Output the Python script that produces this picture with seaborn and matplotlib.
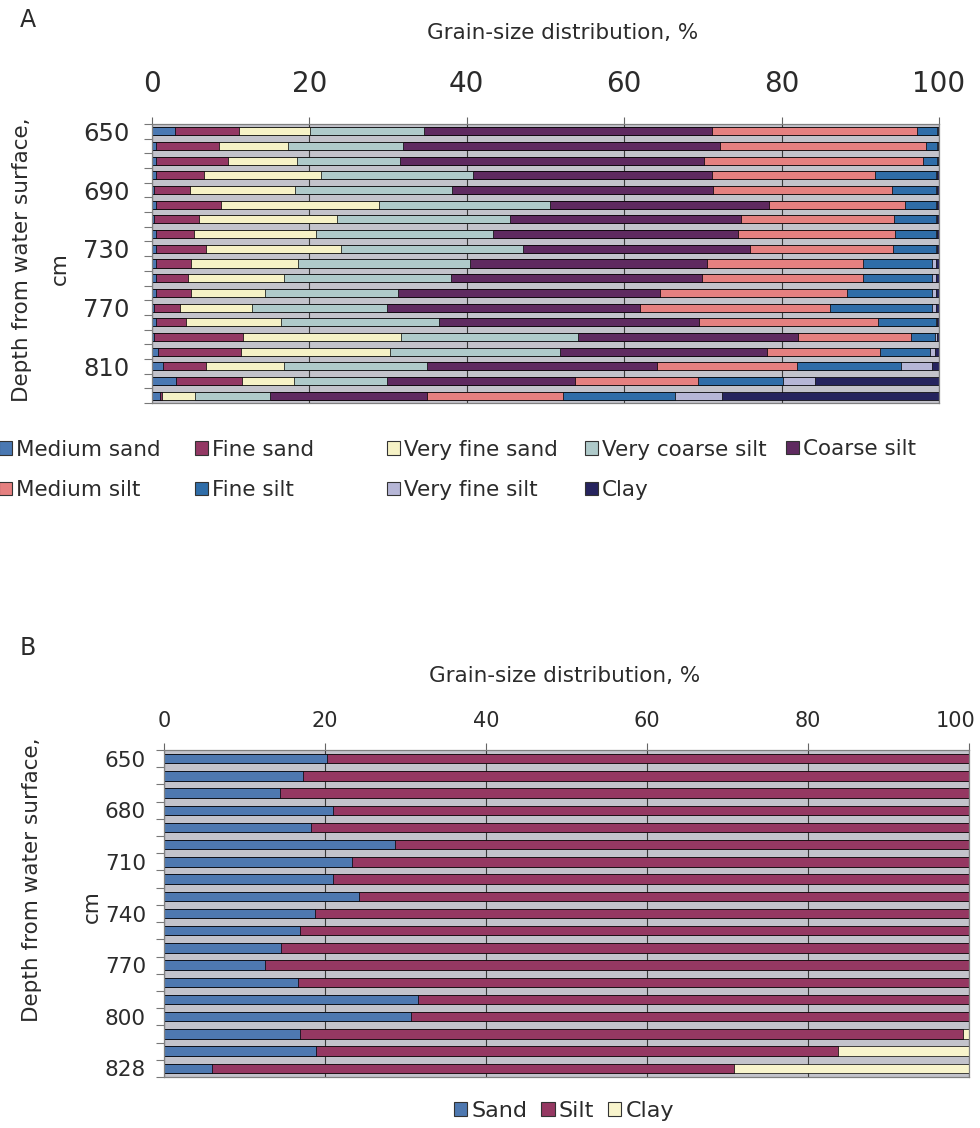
import numpy as np
import pandas as pd
import matplotlib
matplotlib.use('Agg')
import matplotlib.pyplot as plt
import matplotlib.transforms as mtransforms
from matplotlib.patches import Patch
import seaborn as sns

# ---------------- data ----------------
depths = ["650", "660", "670", "680", "690", "700", "710", "720", "730", "740",
          "750", "760", "770", "780", "790", "800", "810", "820", "828"]

# Panel A: grain-size fractions (%)
medium_sand = [2.9, 0.5, 0.5, 0.5, 0.3, 0.5, 0.3, 0.5, 0.5, 0.5, 0.5, 0.5, 0.3, 0.5, 0.3, 0.8, 1.4, 3.1, 1.0]
fine_sand = [8.2, 8.0, 9.2, 6.1, 4.5, 8.3, 5.7, 4.8, 6.4, 4.4, 4.1, 4.4, 3.2, 3.8, 11.2, 10.5, 5.5, 8.3, 0.3]
very_fine_sand = [9.0, 8.8, 8.7, 14.9, 13.4, 20.0, 17.5, 15.6, 17.1, 13.6, 12.2, 9.4, 9.2, 12.1, 20.1, 19.0, 9.9, 6.7, 4.2]
very_coarse_silt = [14.4, 14.6, 13.1, 19.3, 19.9, 21.8, 22.0, 22.4, 23.1, 21.9, 21.2, 17.0, 17.1, 20.1, 22.5, 21.5, 18.2, 11.7, 9.5]
coarse_silt = [36.6, 40.3, 38.6, 30.3, 33.2, 27.8, 29.4, 31.2, 28.9, 30.1, 31.9, 33.2, 32.2, 33.0, 28.0, 26.3, 29.2, 24.0, 20.0]
medium_silt = [26.1, 26.2, 27.9, 20.8, 22.7, 17.3, 19.4, 19.9, 18.2, 19.9, 20.5, 23.8, 24.2, 22.7, 14.4, 14.4, 17.8, 15.6, 17.2]
fine_silt = [2.6, 1.4, 1.8, 7.7, 5.6, 3.9, 5.3, 5.2, 5.4, 8.7, 8.7, 10.8, 12.9, 7.4, 3.0, 6.4, 13.2, 10.8, 14.3]
very_fine_silt = [0.1, 0.1, 0.1, 0.2, 0.2, 0.2, 0.2, 0.2, 0.2, 0.5, 0.5, 0.5, 0.5, 0.2, 0.3, 0.6, 3.9, 4.0, 5.9]
clay_a = [0.1, 0.1, 0.1, 0.2, 0.2, 0.2, 0.2, 0.2, 0.2, 0.4, 0.4, 0.4, 0.4, 0.2, 0.2, 0.5, 0.9, 15.8, 27.6]

names_a = ["Medium sand", "Fine sand", "Very fine sand", "Very coarse silt", "Coarse silt",
           "Medium silt", "Fine silt", "Very fine silt", "Clay"]
colors_a = ["#4A78B2", "#933864", "#F6F2C6", "#AFCACA", "#5F2A60",
            "#E58080", "#2F6DA8", "#B6B6D6", "#26245E"]

# Panel B: sand / silt / clay (%)
sand_b = [20.2, 17.3, 14.4, 21.0, 18.3, 28.7, 23.4, 21.0, 24.2, 18.7, 16.9, 14.5, 12.6, 16.7, 31.6, 30.7, 16.9, 18.9, 6.0]
silt_b = [79.8, 82.7, 85.6, 79.0, 81.7, 71.3, 76.6, 79.0, 75.8, 81.3, 83.1, 85.5, 87.4, 83.3, 68.4, 69.3, 82.3, 64.8, 64.8]
clay_b = [0.0, 0.0, 0.0, 0.0, 0.0, 0.0, 0.0, 0.0, 0.0, 0.0, 0.0, 0.0, 0.0, 0.0, 0.0, 0.0, 0.8, 16.3, 29.2]

names_b = ["Sand", "Silt", "Clay"]
colors_b = ["#4E78B0", "#953862", "#F8F4CC"]

xticks = [0, 20, 40, 60, 80, 100]
ylabels_a = ["650", "690", "730", "770", "810"]
ylabels_b = ["650", "680", "710", "740", "770", "800", "828"]

# ---------------- style ----------------
sns.set_theme(style="white")
plt.rcParams['font.family'] = ['DejaVu Sans']
TXT = "#2b2b2b"

W, H = 980, 1128
fig = plt.figure(figsize=(W / 100, H / 100), dpi=100)


def px_axes(l, t, r, b):
    return fig.add_axes([l / W, 1 - b / H, (r - l) / W, (b - t) / H])


def stacked(ax, comps, colors, width):
    cum = np.cumsum(np.array(comps), axis=0)
    for k in range(len(comps) - 1, -1, -1):
        df = pd.DataFrame({"depth": depths, "value": cum[k]})
        sns.barplot(data=df, x="value", y="depth", orient="h", order=depths,
                    color=colors[k], width=width, saturation=1,
                    edgecolor="black", linewidth=0.5, errorbar=None, ax=ax)


def style_axes(ax, shown, xsize, ysize, xpad, ypad):
    ax.set_facecolor("#C3C3CB")
    ax.set_xlim(0, 100)
    ax.set_ylim(len(depths) - 0.5, -0.5)
    ax.set_xlabel("")
    ax.set_ylabel("")
    ax.xaxis.tick_top()
    ax.set_xticks(xticks)
    ax.set_xticklabels([str(v) for v in xticks])
    ax.tick_params(axis="x", which="major", top=True, bottom=False, labeltop=True,
                   labelbottom=False, length=5, width=0.8, color="#666666",
                   pad=xpad, labelsize=xsize, labelcolor=TXT)
    ax.set_yticks(range(len(depths)))
    ax.set_yticklabels([d if d in shown else "" for d in depths])
    ax.tick_params(axis="y", which="major", left=False, length=0, pad=ypad,
                   labelsize=ysize, labelcolor=TXT)
    ax.set_yticks(np.arange(-0.5, len(depths), 1), minor=True)
    ax.tick_params(axis="y", which="minor", left=True, length=6, width=0.8,
                   color="#777777")
    ax.grid(False)
    ax.xaxis.grid(True, color="#3a3a3a", linewidth=0.8)
    ax.set_axisbelow(True)
    for s in ax.spines.values():
        s.set_visible(True)
        s.set_color("#808080")
        s.set_linewidth(0.9)


# ---------------- panel A ----------------
axA = px_axes(152, 124, 939, 403)
stacked(axA, [medium_sand, fine_sand, very_fine_sand, very_coarse_silt, coarse_silt,
              medium_silt, fine_silt, very_fine_silt, clay_a], colors_a, 0.55)
style_axes(axA, ylabels_a, 20, 17.5, 13.5, 16)

fig.text(28 / W, 1 - 20 / H, "A", fontsize=17, color=TXT, ha="center", va="center")
fig.text(563 / W, 1 - 33 / H, "Grain-size distribution, %", fontsize=15.5, color=TXT,
         ha="center", va="center")
fig.text(22 / W, 1 - 260 / H, "Depth from water surface,", fontsize=15.5, color=TXT,
         ha="center", va="center", rotation=90)
fig.text(60 / W, 1 - 269 / H, "cm", fontsize=15.5, color=TXT,
         ha="center", va="center", rotation=90)

handles_a = [Patch(facecolor=c, edgecolor="#333333", linewidth=0.8) for c in colors_a]
cols = [[0, 5], [1, 6], [2, 7], [3, 8], [4]]
col_x = [-1, 195, 387, 585, 786]
for idx, x0 in zip(cols, col_x):
    yc = 470 if len(idx) == 2 else 449
    fig.legend([handles_a[i] for i in idx], [names_a[i] for i in idx],
               loc="center left", bbox_to_anchor=(x0 / W, 1 - yc / H),
               frameon=False, fontsize=15.5, handlelength=0.6, handleheight=0.6,
               handletextpad=0.2, labelspacing=0.95, borderpad=0, borderaxespad=0,
               labelcolor=TXT)

# ---------------- panel B ----------------
axB = px_axes(164, 750, 969, 1077)
stacked(axB, [sand_b, silt_b, clay_b], colors_b, 0.55)
style_axes(axB, ylabels_b, 15, 15.5, 9, 13)
# keep the "100" label inside the figure, as in the reference
last = axB.get_xticklabels()[-1]
last.set_transform(last.get_transform() +
                   mtransforms.ScaledTranslation(-13 / 100, 0, fig.dpi_scale_trans))

fig.text(28 / W, 1 - 648 / H, "B", fontsize=17, color=TXT, ha="center", va="center")
fig.text(565 / W, 1 - 676 / H, "Grain-size distribution, %", fontsize=15.5, color=TXT,
         ha="center", va="center")
fig.text(32 / W, 1 - 880 / H, "Depth from water surface,", fontsize=15.5, color=TXT,
         ha="center", va="center", rotation=90)
fig.text(92 / W, 1 - 907 / H, "cm", fontsize=15.5, color=TXT,
         ha="center", va="center", rotation=90)

handles_b = [Patch(facecolor=c, edgecolor="#333333", linewidth=0.8) for c in colors_b]
fig.legend(handles_b, names_b, loc="center", bbox_to_anchor=(564 / W, 1 - 1111 / H),
           ncol=3, frameon=False, fontsize=16, handlelength=0.6, handleheight=0.6,
           handletextpad=0.2, columnspacing=0.6, borderpad=0, borderaxespad=0,
           labelcolor=TXT)

fig.savefig("out.png", dpi=100, facecolor="white")
